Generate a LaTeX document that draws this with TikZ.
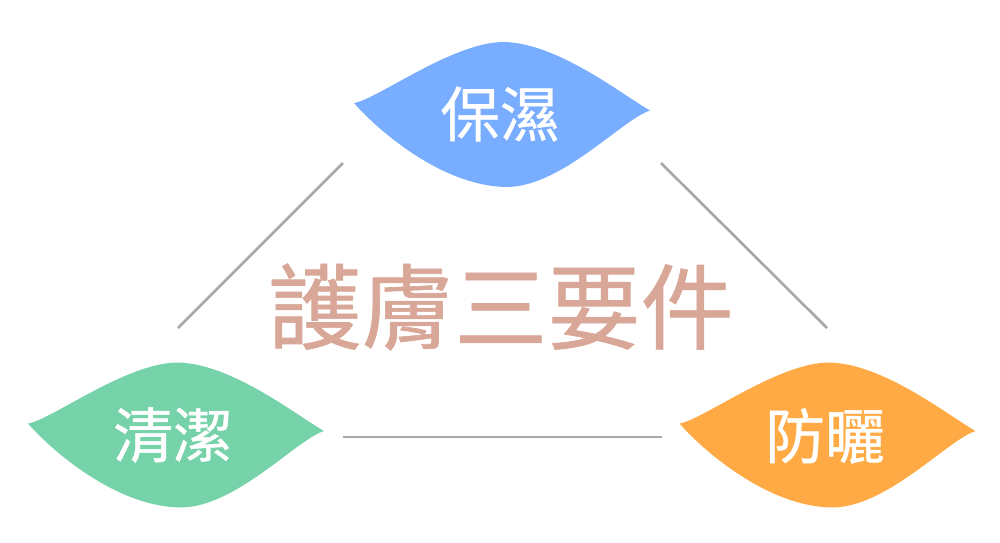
\documentclass[tikz,border=0pt]{standalone}
\usepackage{fontspec}
\usepackage{tikz}
\newfontfamily\cjk[FakeBold=0.7]{Noto Sans CJK TC}
\definecolor{leafblue}{RGB}{121,173,255}
\definecolor{leafgreen}{RGB}{118,211,169}
\definecolor{leaforange}{RGB}{255,170,69}
\definecolor{titlerose}{RGB}{216,167,151}
\definecolor{linegray}{RGB}{168,168,168}
% leaf outline centred at (#1,#2), filled with #3
\newcommand{\leafat}[3]{%
  \fill[#3,shift={(#1,#2)}] (-148,-11.5) .. controls (-125,-15) and (-50,-72) .. (1,-72.5)
    .. controls (55,-72) and (120,-20) .. (148,-4)
    .. controls (120,5) and (60,72) .. (5,72.5)
    .. controls (-60,72) and (-125,15) .. cycle;}

\begin{document}
\begin{tikzpicture}[x=0.02cm,y=-0.02cm,
  leaftext/.style={text=white,font=\cjk\fontsize{34}{37}\selectfont,inner sep=0pt},
  edge/.style={linegray,line width=1.5pt}]
\useasboundingbox (0,0) rectangle (1000,542);
% leaves
\leafat{502}{114.5}{leafblue}
\leafat{176}{435}{leafgreen}
\leafat{827.5}{435}{leaforange}
\node[leaftext] (moist) at (500,114) {保濕};
\node[leaftext] (clean) at (173,435) {清潔};
\node[leaftext] (sun) at (825,436) {防曬};
% title
\node[text=titlerose,font=\cjk\fontsize{53}{57}\selectfont,inner sep=0pt] (title) at (501,307) {護膚三要件};
% connecting lines
\coordinate (tl1) at (343,163);
\coordinate (tl2) at (178,328);
\coordinate (tr1) at (661,163);
\coordinate (tr2) at (827,328);
\coordinate (b1) at (343,437);
\coordinate (b2) at (662,437);
\draw[edge] (tl1) -- (tl2);
\draw[edge] (tr1) -- (tr2);
\draw[edge] (b1) -- (b2);
\end{tikzpicture}
\end{document}
